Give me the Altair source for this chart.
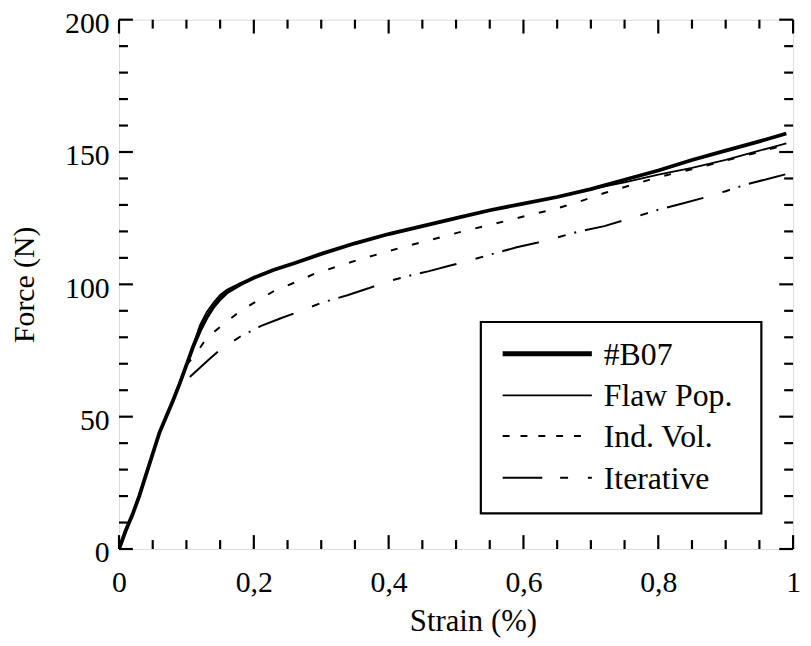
import altair as alt
import pandas as pd

# ---------------- data ----------------
strain_b07 = [0, 0.01, 0.02, 0.03, 0.04, 0.05, 0.06, 0.07, 0.08, 0.09, 0.10, 0.11, 0.12, 0.13,
              0.14, 0.15, 0.16, 0.18, 0.20, 0.23, 0.26, 0.30, 0.35, 0.40, 0.45, 0.50, 0.55,
              0.60, 0.65, 0.70, 0.75, 0.80, 0.85, 0.90, 0.95, 0.99]
force_b07 = [0, 7, 13, 20, 28, 36, 44, 50, 56, 62.5, 69.5, 76.5, 82.5, 87.5,
             91.5, 94.5, 97, 100, 102.5, 105.5, 108, 111.5, 115.5, 119, 122, 125, 128,
             130.5, 133, 136, 139.5, 143, 147, 150.5, 154, 157]

strain_flaw = [0, 0.02, 0.04, 0.06, 0.08, 0.10, 0.11, 0.12, 0.13, 0.14, 0.15, 0.16, 0.18,
               0.20, 0.23, 0.26, 0.30, 0.35, 0.40, 0.45, 0.50, 0.55, 0.60, 0.65, 0.70,
               0.75, 0.80, 0.85, 0.90, 0.95, 0.99]
force_flaw = [0, 13, 28, 44, 56, 69.5, 77, 84.5, 89.5, 93, 96, 98, 100.5,
              102.5, 105.5, 108, 111.5, 115.5, 119, 122, 125, 128, 130.5, 133, 136,
              138.5, 141.5, 144, 147, 150.5, 153.3]

strain_ind = [0, 0.02, 0.04, 0.06, 0.08, 0.10, 0.115, 0.13, 0.157, 0.18, 0.20, 0.23, 0.26,
              0.29, 0.328, 0.358, 0.39, 0.423, 0.454, 0.484, 0.516, 0.549, 0.58, 0.612,
              0.645, 0.68, 0.72, 0.76, 0.80, 0.85, 0.90, 0.95, 0.99]
force_ind = [0, 13, 28, 44, 56, 69.5, 74, 79.8, 85.3, 90, 93, 97.5, 100.6,
             104, 107.1, 109.5, 111.8, 114.2, 116.2, 118.3, 120.4, 122.4, 124.3, 126.4,
             128.3, 131, 134.5, 137.5, 140.5, 143.5, 146.8, 150, 152.8]

strain_iter = [0.105, 0.12, 0.135, 0.15, 0.18, 0.21, 0.24, 0.27, 0.30, 0.34, 0.37, 0.40,
               0.43, 0.46, 0.49, 0.52, 0.55, 0.59, 0.62, 0.65, 0.68, 0.72, 0.77, 0.80,
               0.84, 0.87, 0.90, 0.93, 0.965, 0.995]
force_iter = [65, 68.5, 72, 75.3, 80.3, 84.2, 87.2, 90, 93, 96, 98.5, 101.2,
              103.2, 105, 107, 109, 111.2, 114, 115.7, 117.7, 119.8, 122, 125.8, 128.2,
              130.8, 132.9, 135.2, 137.7, 140, 142]

x_major = [0, 0.2, 0.4, 0.6, 0.8, 1.0]
x_minor = [0.05, 0.1, 0.15, 0.25, 0.3, 0.35, 0.45, 0.5, 0.55, 0.65, 0.7, 0.75, 0.85, 0.9, 0.95]
y_major = [0, 50, 100, 150, 200]
y_minor = [10, 20, 30, 40, 60, 70, 80, 90, 110, 120, 130, 140, 160, 170, 180, 190]

legend_labels = ["#B07", "Flaw Pop.", "Ind. Vol.", "Iterative"]

# ---------------- styling ----------------
W, H = 680, 534
FONT = "Liberation Serif"
MAJ, MIN = 14, 9

xs = alt.Scale(domain=[0, 1], nice=False, zero=False)
ys = alt.Scale(domain=[0, 200], nice=False, zero=False)

x_axis = alt.Axis(
    values=x_major,
    labelExpr="datum.value == 0 ? '0' : datum.value == 1 ? '1' : replace(format(datum.value, '.1f'), '.', ',')",
    ticks=False, tickSize=0, domain=False, grid=False,
    labelFont=FONT, labelFontSize=30, labelColor="black", labelPadding=19,
    labelFlush=False, labelOverlap=False,
    title="Strain (%)", titleFont=FONT, titleFontSize=31, titleFontWeight="normal",
    titleColor="black", titleBaseline="alphabetic", titleY=82, titleX=357,
)
y_axis = alt.Axis(
    values=y_major,
    ticks=False, tickSize=0, domain=False, grid=False,
    labelFont=FONT, labelFontSize=30, labelColor="black", labelPadding=10,
    labelBaseline="middle", labelOffset=4, labelFlush=False, labelOverlap=False,
    title="Force (N)", titleFont=FONT, titleFontSize=30, titleFontWeight="normal",
    titleColor="black", titleAngle=270, titleBaseline="alphabetic", titleX=-86,
    titleY=267, titleAlign="center",
)

X = alt.X("strain:Q", scale=xs, axis=x_axis)
Y = alt.Y("force:Q", scale=ys, axis=y_axis)


def curve(sx, fy, width, dash=None):
    df = pd.DataFrame({"strain": sx, "force": fy})
    kw = dict(color="black", strokeWidth=width, clip=True)
    if dash:
        kw["strokeDash"] = dash
    return alt.Chart(df).mark_line(**kw).encode(x=X, y=Y, order="strain:Q")


b07 = curve(strain_b07, force_b07, 3.8)
flaw = curve(strain_flaw, force_flaw, 1.8)
ind = curve(strain_ind, force_ind, 2, [7, 15])
itr = curve(strain_iter, force_iter, 2, [38, 20, 8, 9, 2, 9])

# ticks (inward, all four sides)
dxM = pd.DataFrame({"strain": x_major})
dxm = pd.DataFrame({"strain": x_minor})
dyM = pd.DataFrame({"force": y_major})
dym = pd.DataFrame({"force": y_minor})

tick_layers = []
for d, L in [(dxM, MAJ), (dxm, MIN)]:
    tick_layers.append(alt.Chart(d).mark_rule(color="black", strokeWidth=2.2).encode(
        x=X, y=alt.value(H), y2=alt.value(H - L)))
    tick_layers.append(alt.Chart(d).mark_rule(color="black", strokeWidth=2.2).encode(
        x=X, y=alt.value(0), y2=alt.value(L)))
for d, L in [(dyM, MAJ), (dym, MIN)]:
    tick_layers.append(alt.Chart(d).mark_rule(color="black", strokeWidth=2.2).encode(
        y=Y, x=alt.value(0), x2=alt.value(L)))
    tick_layers.append(alt.Chart(d).mark_rule(color="black", strokeWidth=2.2).encode(
        y=Y, x=alt.value(W), x2=alt.value(W - L)))

# manual legend
one = pd.DataFrame({"a": [0]})
box = alt.Chart(one).mark_rect(fill="white", stroke="black", strokeWidth=2.2).encode(
    x=alt.value(365), x2=alt.value(648), y=alt.value(305), y2=alt.value(498))

leg_y = [337, 379, 420, 462]
leg_styles = [(5, None), (2, None), (2, [7, 11]), (2, [40, 18, 8, 20, 4, 20])]
leg_layers = [box]
for lab, yy, (sw, dash) in zip(legend_labels, leg_y, leg_styles):
    kw = dict(color="black", strokeWidth=sw)
    if dash:
        kw["strokeDash"] = dash
    leg_layers.append(alt.Chart(one).mark_rule(**kw).encode(
        x=alt.value(387), x2=alt.value(477), y=alt.value(yy)))
    leg_layers.append(alt.Chart(one).mark_text(
        align="left", baseline="alphabetic", font=FONT, fontSize=32, color="black").encode(
        x=alt.value(489), y=alt.value(yy + 11), text=alt.value(lab)))

chart = alt.layer(b07, flaw, ind, itr, *tick_layers, *leg_layers).properties(
    width=W, height=H,
    autosize=alt.AutoSizeParams(type="none"),
    padding={"left": 112, "top": 9, "right": 10, "bottom": 88},
).configure_view(stroke="black", strokeWidth=2.2).configure(background="white")

chart.save("out.html", embed_options={"renderer": "svg", "actions": False})
